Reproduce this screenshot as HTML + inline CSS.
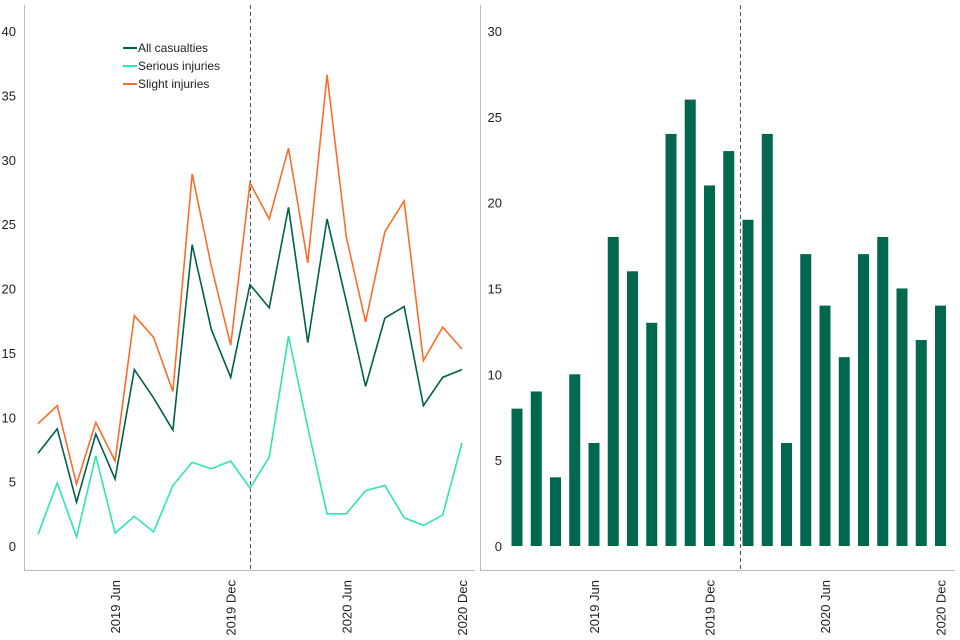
<!DOCTYPE html>
<html><head><meta charset="utf-8"><style>
body{margin:0;background:#fff;}
svg{display:block;font-family:"Liberation Sans",Arial,sans-serif;}
</style></head><body>
<svg id="c" width="960" height="640"></svg>
<script>
const months=["Feb","Mar","Apr","May","Jun","Jul","Aug","Sep","Oct","Nov","Dec","Jan","Feb","Mar","Apr","May","Jun","Jul","Aug","Sep","Oct","Nov","Dec"];
const allCasualties=[7.2,9.1,3.4,8.7,5.2,13.7,11.5,9,23.4,16.8,13.1,20.3,18.5,26.3,15.8,25.4,19,12.4,17.7,18.6,10.9,13.1,13.7];
const seriousInjuries=[0.9,4.9,0.7,7,1,2.3,1.1,4.7,6.5,6,6.6,4.5,6.9,16.3,9.2,2.5,2.5,4.3,4.7,2.2,1.6,2.4,8];
const slightInjuries=[9.5,10.9,4.8,9.6,6.6,17.9,16.2,12,28.9,21.7,15.6,28.2,25.4,30.9,22,36.6,24,17.4,24.4,26.8,14.4,17,15.3];
const barValues=[8,9,4,10,6,18,16,13,24,26,21,23,19,24,6,17,14,11,17,18,15,12,14];
const leftTicks=[0,5,10,15,20,25,30,35,40];
const rightTicks=[0,5,10,15,20,25,30];
const xLabels=[{i:4,t:"2019  Jun"},{i:10,t:"2019  Dec"},{i:16,t:"2020  Jun"},{i:22,t:"2020  Dec"}];

const svg=document.getElementById('c');
const NS="http://www.w3.org/2000/svg";
function mk(tag,attrs,parent){const e=document.createElementNS(NS,tag);for(const k in attrs)e.setAttribute(k,attrs[k]);(parent||svg).appendChild(e);return e;}
const step=19.27;
const lx=i=>38+i*step, ly=v=>546-v*12.875;
const rx=i=>517+i*19.25, ry=v=>546-v*17.17;

let g=mk('g',{});
let a=mk('line',{x1:24.5,y1:5,x2:24.5,y2:570.5,stroke:'#bbb'},g);
a=mk('line',{x1:24,y1:570.5,x2:475,y2:570.5,stroke:'#bbb'},g);
leftTicks.forEach(v=>{const t=mk('text',{x:16,y:ly(v)+5,'text-anchor':'end','font-size':13,fill:'#222'},g);t.textContent=v;
});
a=mk('line',{x1:250.5,y1:5,x2:250.5,y2:570,stroke:'#555','stroke-dasharray':'4,3'},g);
function line(arr,col,name){const p=mk('polyline',{points:arr.map((v,i)=>lx(i)+','+ly(v)).join(' '),fill:'none',stroke:col,'stroke-width':1.6,'stroke-linejoin':'miter'},g);
}
line(seriousInjuries,'#2ee6b0','serious-injuries-line');
line(slightInjuries,'#ff6b2a','slight-injuries-line');
line(allCasualties,'#00604a','all-casualties-line');
[["All casualties",'#00604a'],["Serious injuries",'#2ee6b0'],["Slight injuries",'#ff6b2a']].forEach((d,k)=>{
 const y=48+k*18;
 const l=mk('line',{x1:123,y1:y,x2:137,y2:y,stroke:d[1],'stroke-width':2},g);
 const t=mk('text',{x:138,y:y+4,'font-size':12,fill:'#222'},g);t.textContent=d[0];});
xLabels.forEach(d=>{const x=lx(d.i)+5;const t=mk('text',{x:0,y:0,'text-anchor':'end','font-size':13,fill:'#222',transform:`translate(${x},580) rotate(-90)`},g);t.textContent=d.t;
});

let g2=mk('g',{});
a=mk('line',{x1:480.5,y1:5,x2:480.5,y2:570.5,stroke:'#bbb'},g2);
a=mk('line',{x1:480,y1:570.5,x2:955,y2:570.5,stroke:'#bbb'},g2);
rightTicks.forEach(v=>{const t=mk('text',{x:502,y:ry(v)+5,'text-anchor':'end','font-size':13,fill:'#222'},g2);t.textContent=v;
});
barValues.forEach((v,i)=>{const b=mk('rect',{x:rx(i)-5.5,y:ry(v),width:11,height:546-ry(v),fill:'#00684f'},g2);
});
a=mk('line',{x1:740.5,y1:5,x2:740.5,y2:570,stroke:'#555','stroke-dasharray':'4,3'},g2);
xLabels.forEach(d=>{const x=rx(d.i)+5;const t=mk('text',{x:0,y:0,'text-anchor':'end','font-size':13,fill:'#222',transform:`translate(${x},580) rotate(-90)`},g2);t.textContent=d.t;
});
</script>
</body></html>
